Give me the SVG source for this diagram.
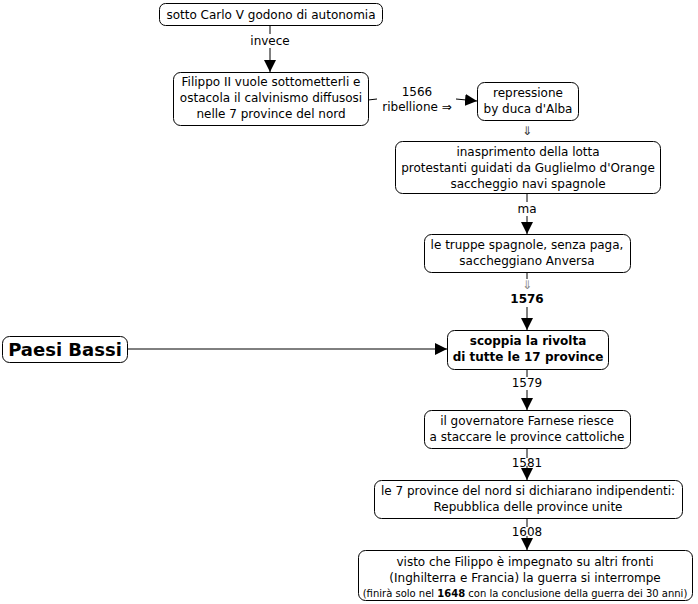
<svg xmlns="http://www.w3.org/2000/svg" width="698" height="604" viewBox="0 0 698 604">
<defs>
<style>
.box{fill:#fff;stroke:#000;stroke-width:1}
text{font-family:"DejaVu Sans",Verdana,sans-serif;font-size:12px;fill:#000;text-anchor:middle}
.b{font-weight:bold}
.ln{stroke:#000;stroke-width:1;fill:none}
.arr{font-size:12px;fill:#333}
</style>
<marker id="ah" viewBox="0 0 12 12" refX="12" refY="6" markerWidth="12" markerHeight="12" markerUnits="userSpaceOnUse" orient="auto">
<path d="M0,0 L12,6 L0,12 Z" fill="#000"/>
</marker>
</defs>
<rect width="698" height="604" fill="#fff"/>
<g id="connectors">
<line class="ln" x1="270" y1="25" x2="270" y2="34"/>
<line class="ln" x1="270" y1="48" x2="270" y2="72" marker-end="url(#ah)"/>
<line class="ln" x1="368" y1="100" x2="377" y2="99"/>
<line class="ln" x1="456" y1="99" x2="477" y2="101" marker-end="url(#ah)"/>
<line class="ln" x1="527" y1="193" x2="527" y2="202"/>
<line class="ln" x1="527" y1="216" x2="527" y2="234" marker-end="url(#ah)"/>
<line class="ln" x1="527" y1="272" x2="527" y2="279"/>
<line class="ln" x1="527" y1="307" x2="527" y2="330" marker-end="url(#ah)"/>
<line class="ln" x1="127" y1="349" x2="447" y2="349" marker-end="url(#ah)"/>
<line class="ln" x1="527" y1="369" x2="527" y2="377"/>
<line class="ln" x1="527" y1="390" x2="527" y2="410" marker-end="url(#ah)"/>
<line class="ln" x1="527" y1="448" x2="527" y2="458"/>
<line class="ln" x1="527" y1="466" x2="527" y2="480" marker-end="url(#ah)"/>
<line class="ln" x1="527" y1="518" x2="527" y2="527"/>
<line class="ln" x1="527" y1="536" x2="527" y2="550" marker-end="url(#ah)"/>
<text x="270" y="45">invece</text>
<text x="417" y="96">1566</text>
<text x="417" y="111">ribellione ⇒</text>
<text x="527" y="135" class="arr">⇓</text>
<text x="527" y="213">ma</text>
<text x="527" y="289" class="arr" style="fill:#888">⇓</text>
<text x="527" y="303" class="b">1576</text>
<text x="527" y="387">1579</text>
<text x="527" y="467">1581</text>
<text x="527" y="536">1608</text>
</g>
<g id="n1"><rect class="box" x="159.5" y="3.5" width="223" height="22" rx="6"/><text x="271" y="19">sotto Carlo V godono di autonomia</text></g>
<g id="n2"><rect class="box" x="173.5" y="72.5" width="195" height="53" rx="7"/><text x="271" y="86">Filippo II vuole sottometterli e</text><text x="271" y="102">ostacola il calvinismo diffusosi</text><text x="271" y="118">nelle 7 province del nord</text></g>
<g id="n3"><rect class="box" x="477.5" y="82.5" width="101" height="38" rx="7"/><text x="528" y="97">repressione</text><text x="528" y="113">by duca d'Alba</text></g>
<g id="n4"><rect class="box" x="395.5" y="141.5" width="265" height="52" rx="7"/><text x="528" y="156">inasprimento della lotta</text><text x="528" y="172">protestanti guidati da Guglielmo d'Orange</text><text x="528" y="188">saccheggio navi spagnole</text></g>
<g id="n5"><rect class="box" x="424.5" y="234.5" width="206" height="38" rx="7"/><text x="527" y="249">le truppe spagnole, senza paga,</text><text x="527" y="265">saccheggiano Anversa</text></g>
<g id="n6"><rect class="box" x="447.5" y="330.5" width="161" height="39" rx="7"/><text x="528" y="345" class="b">scoppia la rivolta</text><text x="528" y="361" class="b">di tutte le 17 province</text></g>
<g id="n0"><rect class="box" x="2.5" y="336.5" width="125" height="26" rx="7"/><text x="65" y="356" class="b" style="font-size:18px">Paesi Bassi</text></g>
<g id="n7"><rect class="box" x="424.5" y="410.5" width="206" height="38" rx="7"/><text x="527" y="425">il governatore Farnese riesce</text><text x="527" y="441">a staccare le province cattoliche</text></g>
<g id="n8"><rect class="box" x="374.5" y="480.5" width="308" height="38" rx="7"/><text x="528" y="495">le 7 province del nord si dichiarano indipendenti:</text><text x="528" y="511">Repubblica delle province unite</text></g>
<g id="n9"><rect class="box" x="358.5" y="550.5" width="334" height="50" rx="7"/><text x="525" y="566">visto che Filippo è impegnato su altri fronti</text><text x="525" y="582">(Inghilterra e Francia) la guerra si interrompe</text><text x="525" y="597" style="font-size:10px">(finirà solo nel <tspan class="b">1648</tspan> con la conclusione della guerra dei 30 anni)</text></g>
</svg>
